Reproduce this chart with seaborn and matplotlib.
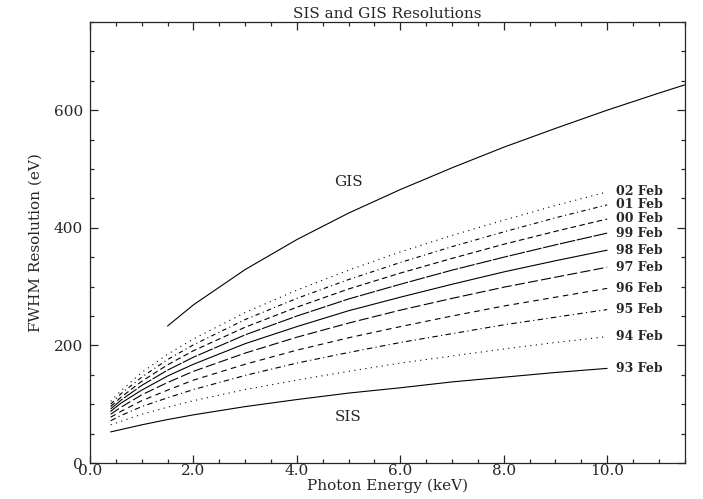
import matplotlib
matplotlib.use("Agg")
import matplotlib.pyplot as plt
import seaborn as sns
import pandas as pd
from matplotlib.ticker import MultipleLocator, FormatStrFormatter

# ---- data ----
energy_sis = [0.4, 0.6, 1.0, 1.5, 2.0, 3.0, 4.0, 5.0, 6.0, 7.0, 8.0, 9.0, 10.0]
sis_93 = [53, 57, 65, 74, 82, 96, 108, 119, 128, 138, 146, 154, 161]
sis_94 = [65, 71, 83, 95, 106, 125, 141, 156, 170, 182, 194, 205, 215]
sis_95 = [72, 81, 96, 111, 125, 149, 170, 188, 205, 220, 235, 248, 261]
sis_96 = [78, 88, 106, 124, 141, 168, 192, 213, 232, 250, 267, 282, 297]
sis_97 = [83, 95, 116, 137, 156, 187, 214, 238, 260, 280, 299, 316, 333]
sis_98 = [88, 102, 124, 148, 168, 203, 232, 259, 282, 304, 325, 344, 362]
sis_99 = [92, 107, 132, 158, 180, 218, 250, 279, 304, 328, 350, 371, 391]
sis_00 = [96, 112, 139, 167, 191, 231, 265, 296, 323, 348, 372, 394, 415]
sis_01 = [100, 118, 146, 176, 201, 244, 280, 312, 341, 368, 393, 417, 439]
sis_02 = [105, 123, 154, 185, 211, 256, 294, 328, 359, 387, 413, 438, 461]

energy_gis = [1.5, 2.0, 3.0, 4.0, 5.0, 6.0, 7.0, 8.0, 9.0, 10.0, 11.0, 11.5]
gis = [233, 269, 329, 380, 425, 465, 502, 537, 569, 600, 629, 643]

epoch_labels = ["93 Feb", "94 Feb", "95 Feb", "96 Feb", "97 Feb",
                "98 Feb", "99 Feb", "00 Feb", "01 Feb", "02 Feb"]
sis_series = [sis_93, sis_94, sis_95, sis_96, sis_97,
              sis_98, sis_99, sis_00, sis_01, sis_02]

x_ticks = [0.0, 2.0, 4.0, 6.0, 8.0, 10.0]
y_ticks = [0, 200, 400, 600]

# ---- style ----
sns.set_style("ticks")
plt.rcParams["font.family"] = ["DejaVu Serif"]

line_styles = [
    "-",                      # 93
    (0, (1, 4)),              # 94 dotted
    (0, (5, 3, 1, 3)),        # 95 dash-dot
    (0, (5, 4)),              # 96 dashed
    (0, (9, 3)),              # 97 long dash
    "-",                      # 98 solid
    (0, (14, 1.5)),           # 99 long dash dense
    (0, (5, 3)),              # 00 dashed
    (0, (4, 3, 1, 3)),        # 01 dash-dot
    (0, (1, 4)),              # 02 dotted
]

fig = plt.figure(figsize=(7.03, 4.99), dpi=100)
ax = fig.add_axes([0.128, 0.072, 0.846, 0.884])

frames = []
for lab, vals in zip(epoch_labels, sis_series):
    frames.append(pd.DataFrame({"energy": energy_sis, "fwhm": vals, "epoch": lab}))
df = pd.concat(frames, ignore_index=True)

for lab, ls in zip(epoch_labels, line_styles):
    sub = df[df["epoch"] == lab]
    sns.lineplot(data=sub, x="energy", y="fwhm", ax=ax, color="black",
                 linewidth=0.8, linestyle=ls, sort=False, estimator=None)
    ax.text(10.18, sub["fwhm"].iloc[-1], lab, fontsize=9, fontweight="bold",
            va="center", ha="left")

sns.lineplot(x=energy_gis, y=gis, ax=ax, color="black", linewidth=0.8,
             sort=False, estimator=None)

ax.text(5.0, 478, "GIS", fontsize=11, ha="center", va="center")
ax.text(5.0, 78, "SIS", fontsize=11, ha="center", va="center")

ax.set_xlim(0, 11.5)
ax.set_ylim(0, 750)
ax.set_xticks(x_ticks)
ax.set_yticks(y_ticks)
ax.xaxis.set_major_formatter(FormatStrFormatter("%.1f"))
ax.xaxis.set_minor_locator(MultipleLocator(0.5))
ax.yaxis.set_minor_locator(MultipleLocator(50))
ax.tick_params(which="both", direction="in", top=True, right=True,
               width=0.9, labelsize=11)
ax.tick_params(axis="x", which="major", pad=1)
ax.tick_params(axis="y", which="major", pad=5)
ax.tick_params(which="major", length=6)
ax.tick_params(which="minor", length=3)
for sp in ax.spines.values():
    sp.set_linewidth(0.9)
    sp.set_visible(True)

ax.set_xlabel("Photon Energy (keV)", fontsize=11, labelpad=0)
ax.set_ylabel("FWHM Resolution (eV)", fontsize=11, labelpad=8)
ax.set_title("SIS and GIS Resolutions", fontsize=11, pad=3)

fig.savefig("out.png", dpi=100, facecolor="white")
